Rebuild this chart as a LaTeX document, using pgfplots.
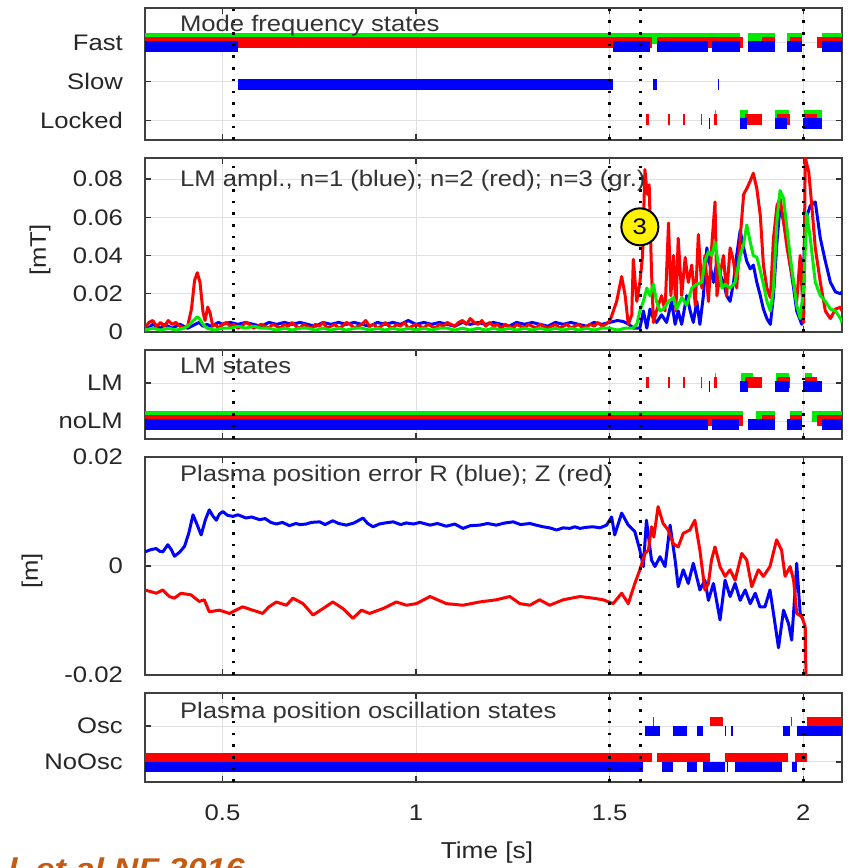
\documentclass[border=0pt]{standalone}
\usepackage{fontspec}
\setmainfont{Liberation Sans}[FakeStretch=1.14]
\usepackage{pgfplots}
\pgfplotsset{compat=1.18}
\definecolor{cgreen}{RGB}{0,235,0}
\definecolor{cred}{RGB}{255,0,0}
\definecolor{cblue}{RGB}{0,0,255}
\definecolor{corange}{RGB}{197,90,17}
\newcommand\lab{\fontsize{22.5bp}{26bp}\selectfont}
\tikzset{vdot/.style={black, line width=2.6bp, dash pattern=on 2.6bp off 9.1bp},
  ttl/.style={anchor=north west, inner sep=0pt, font=\lab, text=black!80}}
\pgfplotsset{
  panel/.style={scale only axis, width=697bp, anchor=south west,
    xmin=0.3, xmax=2.1, xtick={0.5,1,1.5,2}, xticklabels={},
    scaled y ticks=false, scaled x ticks=false,
    axis line style={line width=1.6bp, black!75},
    tick style={line width=1.2bp, black!80}, major tick length=6bp,
    grid=major, major grid style={line width=1bp, black!12},
    yticklabel style={font=\lab, anchor=east, inner sep=0pt, xshift=-22bp, text=black!85},
    unbounded coords=jump},
  bg/.style={draw=cgreen, line width=11bp, mark=none},
  br/.style={draw=cred, line width=11bp, mark=none},
  bb/.style={draw=cblue, line width=11bp, mark=none},
  lr/.style={draw=cred, line width=3bp, mark=none, line join=round},
  lb/.style={draw=cblue, line width=3bp, mark=none, line join=round},
  lg/.style={draw=cgreen, line width=3bp, mark=none, line join=round},
}
\newcommand\vlines{\pgfplotsinvokeforeach{0.528,1.5,1.58,2}{\draw[vdot] ({axis cs:##1,1}|-{rel axis cs:0,0}) -- ({axis cs:##1,1}|-{rel axis cs:0,1});}}
\begin{document}
\begin{tikzpicture}
\path[use as bounding box] (0,0) rectangle (850bp,868bp);
% ---------------- Panel 1
\begin{axis}[panel, at={(145bp,728bp)}, height=132bp, ymin=0.5, ymax=3.9,
  ytick={1,2,3}, yticklabels={Locked,Slow,Fast}]
\addplot[bg] coordinates {(0.3,3.12)(1.837,3.12)(1.837,nan)(1.858,3.12)(1.927,3.12)(1.927,nan)(1.958,3.12)(1.997,3.12)(1.997,nan)(2.049,3.12)(2.1,3.12)(2.1,nan)
 (1.771,1.12)(1.775,1.12)(1.775,nan)(1.837,1.12)(1.858,1.12)(1.858,nan)(1.927,1.12)(1.962,1.12)(1.962,nan)(2.003,1.12)(2.049,1.12)};
\addplot[br] coordinates {(0.3,3.02)(1.61,3.02)(1.61,nan)(1.622,3.02)(1.845,3.02)(1.845,nan)(1.894,3.02)(1.927,3.02)(1.927,nan)(1.966,3.02)(1.997,3.02)(1.997,nan)(2.036,3.02)(2.1,3.02)(2.1,nan)
 (1.594,1.02)(1.601,1.02)(1.601,nan)(1.651,1.02)(1.657,1.02)(1.657,nan)(1.690,1.02)(1.694,1.02)(1.694,nan)(1.736,1.02)(1.739,1.02)(1.739,nan)(1.769,1.02)(1.776,1.02)(1.776,nan)(1.850,1.02)(1.894,1.02)(1.894,nan)(1.933,1.02)(1.966,1.02)(1.966,nan)(2.005,1.02)(2.036,1.02)};
\addplot[bb] coordinates {(0.3,2.92)(0.541,2.92)(0.541,nan)(1.508,2.92)(1.604,2.92)(1.604,nan)(1.622,2.92)(1.754,2.92)(1.754,nan)(1.764,2.92)(1.837,2.92)(1.837,nan)(1.858,2.92)(1.927,2.92)(1.927,nan)(1.958,2.92)(1.997,2.92)(1.997,nan)(2.049,2.92)(2.1,2.92)(2.1,nan)
 (0.541,1.92)(1.508,1.92)(1.508,nan)(1.611,1.92)(1.622,1.92)(1.622,nan)(1.779,1.92)(1.781,1.92)(1.781,nan)
 (1.756,0.92)(1.758,0.92)(1.758,nan)(1.837,0.92)(1.855,0.92)(1.855,nan)(1.927,0.92)(1.958,0.92)(1.958,nan)(2.0,0.92)(2.049,0.92)};
\vlines
\node[ttl, yshift=-7bp] at (rel axis cs:0.05,1) {Mode frequency states};
\end{axis}
% ---------------- Panel 2
\begin{axis}[panel, at={(145bp,536bp)}, height=174bp, ymin=0, ymax=0.091,
  ytick={0,0.02,0.04,0.06,0.08}, yticklabels={0,0.02,0.04,0.06,0.08}]
\addplot[lb] coordinates {(0.30,0.003)(0.31,0.002)(0.32,0.004)(0.33,0.003)(0.34,0.002)(0.35,0.004)(0.36,0.003)(0.37,0.002)(0.38,0.003)(0.39,0.004)(0.40,0.003)(0.41,0.002)(0.42,0.003)(0.43,0.004)(0.44,0.005)(0.45,0.003)(0.46,0.004)(0.47,0.003)(0.48,0.004)(0.49,0.005)(0.50,0.004)(0.52,0.005)(0.54,0.004)(0.56,0.005)(0.58,0.004)(0.60,0.003)(0.62,0.005)(0.64,0.004)(0.66,0.005)(0.68,0.004)(0.70,0.005)(0.72,0.004)(0.74,0.003)(0.76,0.005)(0.78,0.004)(0.80,0.005)(0.82,0.004)(0.84,0.005)(0.86,0.004)(0.88,0.003)(0.90,0.005)(0.92,0.004)(0.94,0.005)(0.96,0.004)(0.98,0.006)(1.00,0.004)(1.02,0.005)(1.04,0.004)(1.06,0.005)(1.08,0.004)(1.10,0.003)(1.12,0.005)(1.14,0.004)(1.16,0.005)(1.18,0.004)(1.20,0.005)(1.22,0.004)(1.24,0.003)(1.26,0.005)(1.28,0.004)(1.30,0.005)(1.32,0.004)(1.34,0.003)(1.36,0.005)(1.38,0.004)(1.40,0.005)(1.42,0.004)(1.44,0.003)(1.46,0.005)(1.48,0.004)(1.50,0.005)(1.52,0.006)(1.535,0.0055)(1.55,0.004)
 (1.561,0.002)(1.578,0.002)(1.587,0.011)(1.596,0.002)(1.604,0.012)(1.613,0.007)(1.621,0.005)(1.634,0.009)(1.647,0.005)(1.660,0.016)(1.669,0.004)(1.677,0.011)(1.686,0.004)(1.699,0.019)(1.708,0.011)(1.716,0.005)(1.725,0.016)(1.733,0.004)(1.742,0.019)(1.751,0.044)(1.759,0.035)(1.768,0.026)(1.777,0.037)(1.785,0.030)(1.794,0.026)(1.802,0.019)(1.811,0.016)(1.820,0.026)(1.828,0.040)(1.837,0.053)(1.846,0.044)(1.854,0.037)(1.863,0.033)(1.871,0.035)(1.880,0.026)(1.889,0.019)(1.897,0.012)(1.906,0.007)(1.915,0.004)(1.923,0.019)(1.932,0.047)(1.940,0.066)(1.949,0.058)(1.958,0.047)(1.966,0.035)(1.975,0.023)(1.983,0.011)(1.996,0.004)(2.005,0.058)(2.018,0.066)(2.031,0.068)(2.044,0.049)(2.057,0.037)(2.070,0.026)(2.083,0.021)(2.096,0.020)(2.1,0.021)};
\addplot[lr] coordinates {(0.30,0.002)(0.31,0.005)(0.32,0.006)(0.33,0.003)(0.34,0.005)(0.35,0.003)(0.36,0.006)(0.37,0.004)(0.38,0.005)(0.39,0.003)(0.40,0.002)(0.41,0.003)(0.42,0.012)(0.428,0.027)(0.435,0.031)(0.442,0.026)(0.45,0.010)(0.455,0.006)(0.462,0.013)(0.468,0.010)(0.475,0.003)(0.48,0.004)(0.49,0.002)(0.50,0.004)(0.51,0.005)(0.52,0.003)(0.53,0.004)(0.54,0.002)(0.55,0.003)(0.56,0.005)(0.57,0.004)(0.58,0.002)(0.59,0.003)(0.60,0.004)(0.61,0.003)(0.62,0.002)(0.63,0.004)(0.64,0.003)(0.65,0.002)(0.66,0.004)(0.67,0.003)(0.68,0.005)(0.69,0.003)(0.70,0.002)(0.71,0.004)(0.72,0.003)(0.73,0.002)(0.74,0.004)(0.75,0.003)(0.76,0.005)(0.77,0.002)(0.78,0.003)(0.79,0.004)(0.80,0.002)(0.81,0.003)(0.82,0.005)(0.83,0.004)(0.84,0.002)(0.85,0.003)(0.86,0.004)(0.87,0.006)(0.88,0.003)(0.89,0.004)(0.90,0.002)(0.91,0.003)(0.92,0.005)(0.93,0.003)(0.94,0.002)(0.95,0.004)(0.96,0.003)(0.97,0.005)(0.98,0.002)(0.99,0.003)(1.00,0.004)(1.01,0.003)(1.02,0.002)(1.03,0.004)(1.04,0.003)(1.05,0.002)(1.06,0.004)(1.07,0.003)(1.08,0.005)(1.09,0.004)(1.10,0.003)(1.11,0.005)(1.12,0.006)(1.13,0.004)(1.14,0.007)(1.15,0.005)(1.16,0.004)(1.17,0.006)(1.18,0.003)(1.19,0.005)(1.20,0.003)(1.21,0.004)(1.22,0.002)(1.23,0.004)(1.24,0.003)(1.25,0.002)(1.26,0.004)(1.27,0.003)(1.28,0.002)(1.29,0.004)(1.30,0.003)(1.31,0.002)(1.32,0.004)(1.33,0.003)(1.34,0.002)(1.35,0.003)(1.36,0.004)(1.37,0.002)(1.38,0.003)(1.39,0.004)(1.40,0.002)(1.41,0.003)(1.42,0.004)(1.43,0.002)(1.44,0.003)(1.45,0.004)(1.46,0.003)(1.47,0.005)(1.48,0.003)(1.49,0.004)(1.501,0.006)
 (1.518,0.016)(1.531,0.029)(1.540,0.019)(1.548,0.004)(1.557,0.009)(1.561,0.038)(1.570,0.016)(1.578,0.026)(1.585,0.040)(1.591,0.085)(1.597,0.072)(1.602,0.077)(1.608,0.032)(1.613,0.005)(1.621,0.011)(1.634,0.019)(1.643,0.011)(1.652,0.057)(1.658,0.019)(1.665,0.040)(1.671,0.011)(1.677,0.049)(1.686,0.019)(1.695,0.039)(1.703,0.026)(1.712,0.035)(1.721,0.014)(1.729,0.051)(1.738,0.023)(1.746,0.040)(1.755,0.016)(1.764,0.046)(1.772,0.068)(1.777,0.019)(1.785,0.030)(1.794,0.040)(1.802,0.019)(1.811,0.044)(1.820,0.037)(1.828,0.023)(1.837,0.049)(1.846,0.072)(1.854,0.075)(1.863,0.079)(1.871,0.083)(1.880,0.075)(1.889,0.061)(1.897,0.035)(1.906,0.023)(1.915,0.018)(1.923,0.049)(1.932,0.066)(1.940,0.070)(1.949,0.058)(1.958,0.044)(1.966,0.035)(1.975,0.026)(1.983,0.016)(1.992,0.040)(2.001,0.005)(2.005,0.091)(2.014,0.084)(2.022,0.066)(2.031,0.044)(2.044,0.026)(2.057,0.011)(2.070,0.007)(2.083,0.012)(2.096,0.013)(2.1,0.011)};
\addplot[lg] coordinates {(0.30,0.001)(0.32,0.002)(0.34,0.001)(0.36,0.002)(0.38,0.001)(0.40,0.002)(0.41,0.003)(0.42,0.005)(0.43,0.007)(0.435,0.008)(0.44,0.007)(0.45,0.004)(0.46,0.002)(0.48,0.001)(0.50,0.002)(0.52,0.002)(0.54,0.003)(0.56,0.002)(0.58,0.003)(0.60,0.002)(0.62,0.002)(0.64,0.001)(0.66,0.002)(0.68,0.001)(0.70,0.002)(0.72,0.002)(0.74,0.001)(0.76,0.002)(0.78,0.001)(0.80,0.002)(0.82,0.001)(0.84,0.002)(0.86,0.002)(0.88,0.001)(0.90,0.002)(0.92,0.001)(0.94,0.002)(0.96,0.001)(0.98,0.002)(1.00,0.001)(1.02,0.002)(1.04,0.001)(1.06,0.002)(1.08,0.002)(1.10,0.001)(1.12,0.002)(1.14,0.001)(1.16,0.002)(1.18,0.001)(1.20,0.002)(1.22,0.001)(1.24,0.002)(1.26,0.001)(1.28,0.002)(1.30,0.001)(1.32,0.002)(1.34,0.001)(1.36,0.002)(1.38,0.001)(1.40,0.002)(1.42,0.001)(1.44,0.002)(1.46,0.001)(1.48,0.002)(1.50,0.002)(1.52,0.001)(1.54,0.002)(1.56,0.002)
 (1.570,0.004)(1.578,0.011)(1.587,0.016)(1.596,0.023)(1.604,0.019)(1.613,0.025)(1.621,0.016)(1.630,0.011)(1.639,0.012)(1.652,0.016)(1.665,0.018)(1.673,0.012)(1.686,0.018)(1.699,0.014)(1.712,0.023)(1.725,0.025)(1.738,0.026)(1.746,0.037)(1.755,0.042)(1.764,0.040)(1.772,0.047)(1.781,0.035)(1.790,0.023)(1.798,0.025)(1.811,0.023)(1.824,0.026)(1.837,0.040)(1.846,0.046)(1.854,0.056)(1.863,0.047)(1.871,0.040)(1.880,0.039)(1.889,0.032)(1.897,0.025)(1.906,0.016)(1.915,0.011)(1.923,0.023)(1.932,0.058)(1.940,0.074)(1.949,0.070)(1.958,0.054)(1.966,0.040)(1.975,0.026)(1.983,0.014)(1.992,0.007)(2.001,0.023)(2.009,0.062)(2.018,0.049)(2.031,0.026)(2.044,0.019)(2.057,0.016)(2.070,0.012)(2.083,0.011)(2.096,0.007)(2.1,0.005)};
\vlines
\node[ttl, yshift=-12bp] at (rel axis cs:0.05,1) {LM ampl., n=1 (blue); n=2 (red); n=3 (gr.)};
\node[circle, draw=black, line width=2bp, fill=yellow, inner sep=0pt, minimum size=37bp, font=\lab] at (axis cs:1.578,0.055) {3};
\end{axis}
% ---------------- Panel 3
\begin{axis}[panel, at={(145bp,429bp)}, height=89bp, ymin=0.53, ymax=2.87,
  ytick={1,2}, yticklabels={noLM,LM}]
\addplot[bg] coordinates {(0.3,1.12)(1.845,1.12)(1.845,nan)(1.877,1.12)(1.927,1.12)(1.927,nan)(1.966,1.12)(1.997,1.12)(1.997,nan)(2.023,1.12)(2.1,1.12)(2.1,nan)
 (1.771,2.12)(1.775,2.12)(1.775,nan)(1.840,2.12)(1.870,2.12)(1.870,nan)(1.930,2.12)(1.962,2.12)(1.962,nan)(2.005,2.12)(2.022,2.12)};
\addplot[br] coordinates {(0.3,1.02)(1.845,1.02)(1.845,nan)(1.894,1.02)(1.927,1.02)(1.927,nan)(1.966,1.02)(1.997,1.02)(1.997,nan)(2.036,1.02)(2.1,1.02)(2.1,nan)
 (1.594,2.02)(1.601,2.02)(1.601,nan)(1.651,2.02)(1.657,2.02)(1.657,nan)(1.690,2.02)(1.694,2.02)(1.694,nan)(1.736,2.02)(1.739,2.02)(1.739,nan)(1.769,2.02)(1.776,2.02)(1.776,nan)(1.850,2.02)(1.894,2.02)(1.894,nan)(1.933,2.02)(1.966,2.02)(1.966,nan)(2.005,2.02)(2.036,2.02)};
\addplot[bb] coordinates {(0.3,0.92)(1.754,0.92)(1.754,nan)(1.764,0.92)(1.834,0.92)(1.834,nan)(1.858,0.92)(1.927,0.92)(1.927,nan)(1.958,0.92)(1.997,0.92)(1.997,nan)(2.049,0.92)(2.1,0.92)(2.1,nan)
 (1.756,1.92)(1.758,1.92)(1.758,nan)(1.837,1.92)(1.858,1.92)(1.858,nan)(1.927,1.92)(1.962,1.92)(1.962,nan)(2.0,1.92)(2.049,1.92)};
\vlines
\node[ttl, yshift=-8bp] at (rel axis cs:0.05,1) {LM states};
\end{axis}
% ---------------- Panel 4
\begin{axis}[panel, at={(145bp,193bp)}, height=218bp, ymin=-0.02, ymax=0.02,
  ytick={-0.02,0,0.02}, yticklabels={-0.02,0,0.02}]
\addplot[lb] coordinates {(0.300,0.0026)(0.315,0.0030)(0.329,0.0032)(0.338,0.0027)(0.346,0.0026)(0.359,0.0039)(0.368,0.0030)(0.376,0.0018)(0.389,0.0025)(0.402,0.0036)(0.413,0.0060)(0.424,0.0094)(0.435,0.0075)(0.445,0.0057)(0.456,0.0085)(0.466,0.0103)(0.475,0.0092)(0.484,0.0084)(0.492,0.0095)(0.501,0.0100)(0.513,0.0093)(0.527,0.0091)(0.540,0.0094)(0.561,0.0088)(0.575,0.0090)(0.596,0.0085)(0.610,0.0087)(0.625,0.0080)(0.639,0.0077)(0.655,0.0080)(0.673,0.0074)(0.690,0.0078)(0.700,0.0076)(0.716,0.0077)(0.730,0.0080)(0.751,0.0081)(0.765,0.0076)(0.785,0.0083)(0.800,0.0078)(0.820,0.0075)(0.840,0.0079)(0.863,0.0088)(0.875,0.0078)(0.889,0.0072)(0.905,0.0077)(0.920,0.0079)(0.941,0.0081)(0.960,0.0076)(0.975,0.0079)(0.993,0.0077)(1.010,0.0080)(1.036,0.0075)(1.055,0.0078)(1.078,0.0073)(1.100,0.0077)(1.121,0.0069)(1.140,0.0074)(1.164,0.0075)(1.185,0.0078)(1.207,0.0075)(1.230,0.0079)(1.251,0.0081)(1.270,0.0076)(1.294,0.0078)(1.310,0.0075)(1.328,0.0072)(1.345,0.0070)(1.363,0.0066)(1.380,0.0070)(1.397,0.0069)(1.410,0.0072)(1.423,0.0069)(1.440,0.0071)(1.457,0.0072)(1.475,0.0070)(1.492,0.0075)
 (1.505,0.0090)(1.513,0.0057)(1.531,0.0097)(1.548,0.0075)(1.565,0.0063)(1.578,0.0029)(1.587,-0.0001)(1.595,0.0084)(1.608,0.0011)(1.617,-0.0001)(1.630,0.0017)(1.643,-0.0001)(1.656,0.0075)(1.669,0.0011)(1.677,-0.0038)(1.690,-0.0007)(1.703,-0.0032)(1.716,0.0005)(1.733,-0.0044)(1.746,-0.0026)(1.755,-0.0063)(1.768,-0.0032)(1.785,-0.0099)(1.798,-0.0026)(1.811,-0.0056)(1.824,-0.0032)(1.837,-0.0063)(1.850,-0.0044)(1.863,-0.0069)(1.876,-0.0050)(1.888,-0.0075)(1.901,-0.0075)(1.914,-0.0044)(1.927,-0.0106)(1.936,-0.0150)(1.949,-0.0081)(1.962,-0.0106)(1.970,-0.0136)(1.979,-0.0044)(1.983,0.0005)(1.992,-0.0087)(2.000,-0.0099)};
\addplot[lr] coordinates {(0.300,-0.0044)(0.329,-0.0050)(0.346,-0.0044)(0.363,-0.0056)(0.376,-0.0059)(0.393,-0.0050)(0.419,-0.0053)(0.440,-0.0065)(0.453,-0.0062)(0.466,-0.0084)(0.492,-0.0081)(0.518,-0.0087)(0.535,-0.0081)(0.552,-0.0075)(0.578,-0.0081)(0.604,-0.0087)(0.620,-0.0075)(0.639,-0.0066)(0.665,-0.0072)(0.682,-0.0059)(0.708,-0.0069)(0.734,-0.0090)(0.760,-0.0078)(0.785,-0.0066)(0.811,-0.0078)(0.837,-0.0096)(0.859,-0.0081)(0.880,-0.0087)(0.915,-0.0078)(0.949,-0.0066)(0.975,-0.0072)(1.001,-0.0069)(1.036,-0.0056)(1.078,-0.0069)(1.121,-0.0072)(1.164,-0.0066)(1.207,-0.0062)(1.242,-0.0056)(1.268,-0.0069)(1.294,-0.0072)(1.319,-0.0062)(1.345,-0.0072)(1.380,-0.0062)(1.423,-0.0056)(1.457,-0.0059)(1.483,-0.0062)(1.509,-0.0069)(1.531,-0.0050)(1.548,-0.0069)(1.565,-0.0032)(1.578,-0.0007)(1.591,0.0023)(1.600,0.0029)(1.608,0.0072)(1.614,0.0053)(1.625,0.0109)(1.638,0.0078)(1.651,0.0066)(1.664,0.0041)(1.677,0.0035)(1.690,0.0060)(1.707,0.0066)(1.720,0.0084)(1.733,0.0029)(1.746,-0.0044)(1.755,-0.0032)(1.763,0.0011)(1.772,0.0035)(1.785,-0.0001)(1.798,-0.0019)(1.811,-0.0007)(1.824,-0.0026)(1.841,0.0023)(1.854,0.0011)(1.867,-0.0038)(1.884,-0.0007)(1.897,-0.0019)(1.914,-0.0001)(1.931,0.0048)(1.944,0.0029)(1.953,-0.0019)(1.966,-0.0001)(1.975,-0.0026)(1.983,-0.0087)(1.996,-0.0093)(2.005,-0.0111)(2.007,-0.0210)};
\vlines
\node[ttl, yshift=-8bp] at (rel axis cs:0.05,1) {Plasma position error R (blue); Z (red)};
\end{axis}
% ---------------- Panel 5
\begin{axis}[panel, at={(145bp,86bp)}, height=89bp, ymin=0.44, ymax=2.92,
  ytick={1,2}, yticklabels={NoOsc,Osc}, xticklabels={0.5,1,1.5,2},
  xticklabel style={font=\lab, anchor=north, inner sep=0pt, yshift=-23bp, text=black!85}]
\addplot[br, line width=9bp] coordinates {(0.3,1.12)(1.609,1.12)(1.609,nan)(1.622,1.12)(1.760,1.12)(1.760,nan)(1.798,1.12)(1.961,1.12)(1.961,nan)(1.979,1.12)(2.01,1.12)(2.01,nan)
 (1.611,2.12)(1.614,2.12)(1.614,nan)(1.760,2.12)(1.793,2.12)(1.793,nan)(1.969,2.12)(1.972,2.12)(1.972,nan)(2.01,2.12)(2.1,2.12)};
\addplot[bb, line width=10bp] coordinates {(0.3,0.87)(1.586,0.87)(1.586,nan)(1.635,0.87)(1.664,0.87)(1.664,nan)(1.700,0.87)(1.726,0.87)(1.726,nan)(1.741,0.87)(1.798,0.87)(1.798,nan)(1.803,0.87)(1.806,0.87)(1.806,nan)(1.824,0.87)(1.946,0.87)(1.946,nan)(1.970,0.87)(1.985,0.87)(1.985,nan)
 (1.591,1.87)(1.630,1.87)(1.630,nan)(1.664,1.87)(1.700,1.87)(1.700,nan)(1.726,1.87)(1.741,1.87)(1.741,nan)(1.797,1.87)(1.800,1.87)(1.800,nan)(1.814,1.87)(1.818,1.87)(1.818,nan)(1.948,1.87)(1.966,1.87)(1.966,nan)(1.985,1.87)(2.1,1.87)};
\vlines
\node[ttl, yshift=-9bp] at (rel axis cs:0.05,1) {Plasma position oscillation states};
\end{axis}
% ---------------- labels
\node[rotate=90, font=\lab, text=black!85] at (40bp,618bp) {[mT]};
\node[rotate=90, font=\lab, text=black!85] at (32bp,297bp) {[m]};
\node[font=\fontsize{23bp}{27bp}\selectfont, text=black!85] at (487bp,15bp) {Time [s]};
\node[anchor=north west, inner sep=0pt, text=corange, font=\fontsize{30bp}{34bp}\selectfont\bfseries\itshape] at (8bp,10bp) {l\hspace{18bp}et al NF 2016};
\end{tikzpicture}
\end{document}
